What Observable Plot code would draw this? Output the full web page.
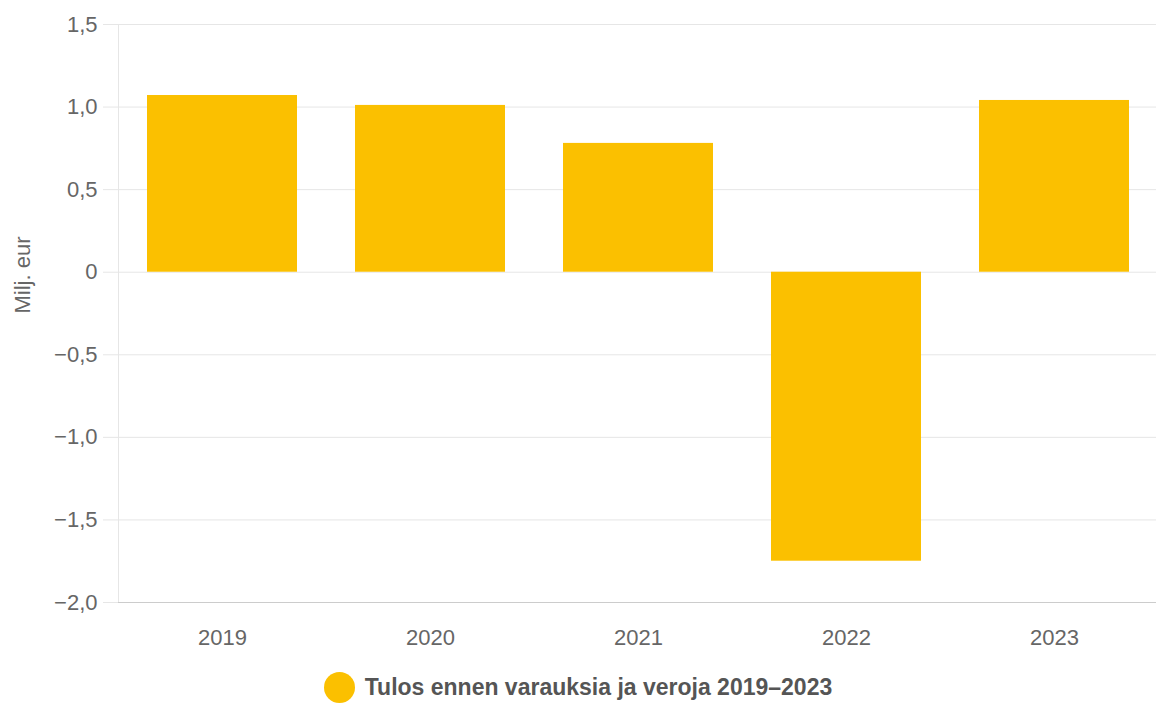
<!DOCTYPE html>
<html>
<head>
<meta charset="utf-8">
<script src="https://cdn.jsdelivr.net/npm/d3@7"></script>
<script src="https://cdn.jsdelivr.net/npm/@observablehq/plot@0.6"></script>
<style>
  html, body { margin: 0; padding: 0; background: #fff; overflow: hidden; }
  body { font-family: "Liberation Sans", Arial, Helvetica, sans-serif; width: 1156px; }
  #legend { display: flex; justify-content: center; align-items: center; margin-top: 12px; margin-left: 0; }
  #legend .dot { width: 31px; height: 31px; border-radius: 50%; background: #fbc000; margin-right: 10px; }
  #legend .lbl { font-weight: bold; font-size: 23px; color: #555; }
</style>
</head>
<body>
<div id="chart"></div>
<div id="legend"><span class="dot"></span><span class="lbl"></span></div>
<script>
const years = ["2019", "2020", "2021", "2022", "2023"];
const values = [1.07, 1.01, 0.78, -1.75, 1.04];
const yTicks = [-2, -1.5, -1, -0.5, 0, 0.5, 1, 1.5];
const yLabel = "Milj. eur";
const seriesName = "Tulos ennen varauksia ja veroja 2019–2023";
const barColor = "#fbc000";

const data = years.map((y, i) => ({year: y, value: values[i]}));
const fmt = d => d === 0 ? "0" : (d < 0 ? "−" : "") + Math.abs(d).toFixed(1).replace(".", ",");

const chart = Plot.plot({
  width: 1156,
  height: 660,
  marginTop: 24,
  marginBottom: 58,
  marginLeft: 118,
  marginRight: -2,
  style: {fontFamily: "'Liberation Sans', Arial, sans-serif", fontSize: "22px", color: "#666", background: "#fff", overflow: "visible"},
  x: {domain: years, paddingInner: 0.28, paddingOuter: 0.14},
  y: {domain: [-2, 1.5]},
  marks: [
    Plot.gridY(yTicks, {stroke: "#e6e6e6", strokeOpacity: 1}),
    Plot.axisY(yTicks, {tickSize: 15, tickPadding: 6, stroke: "#e6e6e6", tickFormat: fmt, fill: "#666", fontSize: 22, label: null}),
    Plot.frame({anchor: "left", stroke: "#e6e6e6"}),
    Plot.ruleY([-2], {stroke: "#cccccc"}),
    Plot.barY(data, {x: "year", y: "value", fill: barColor}),
    Plot.axisX({tickSize: 0, tickPadding: 27, fill: "#666", fontSize: 22, label: null}),
    Plot.text([yLabel], {frameAnchor: "left", rotate: -90, dx: -96, fill: "#666", fontSize: 22})
  ]
});
document.getElementById("chart").appendChild(chart);
document.querySelector("#legend .lbl").textContent = seriesName;
</script>
</body>
</html>
